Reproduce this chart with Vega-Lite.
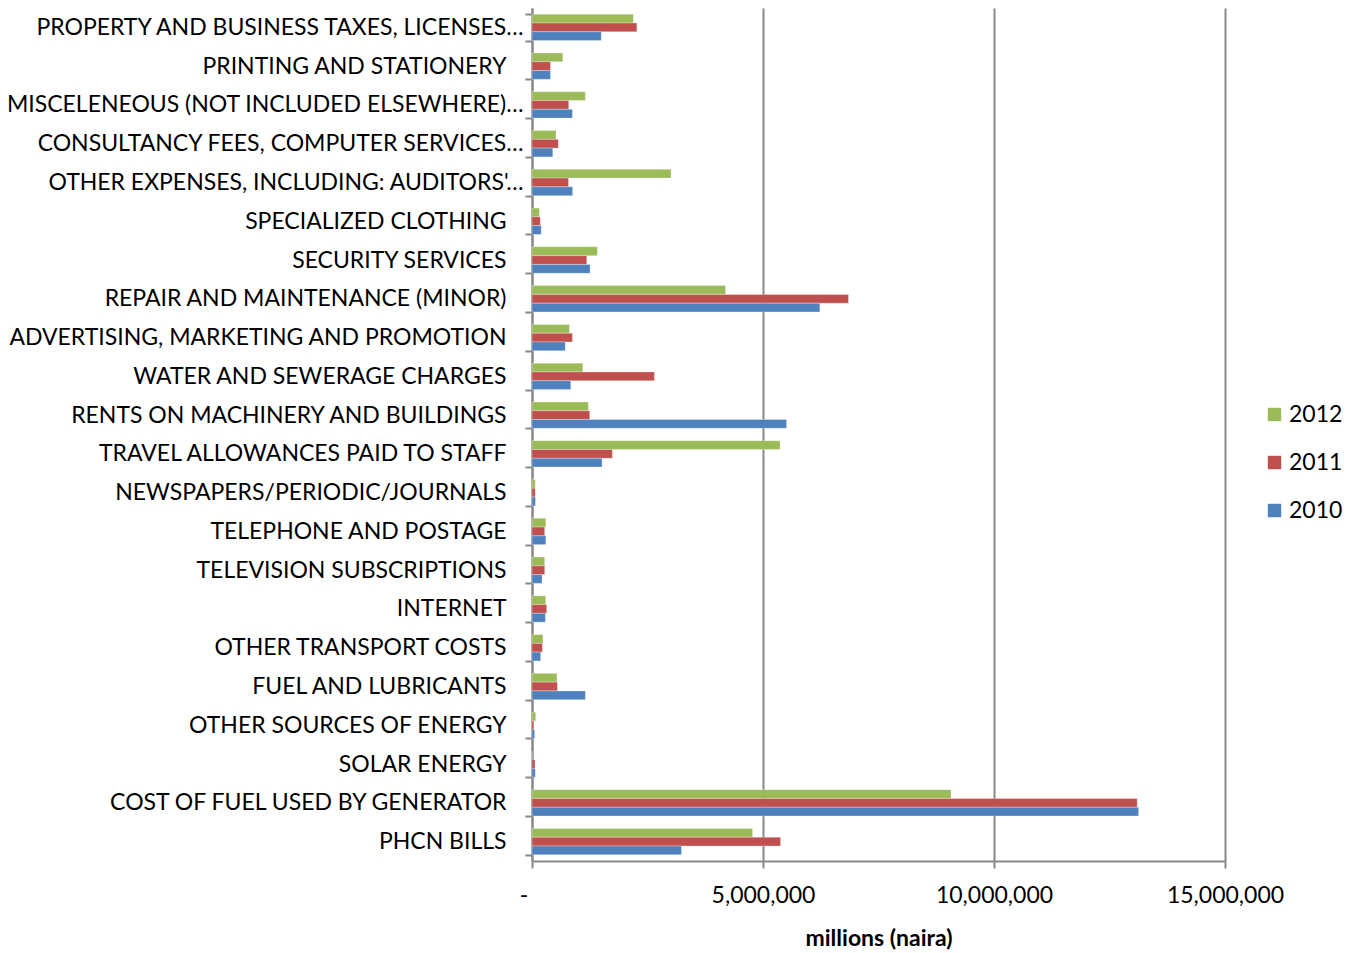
{
  "$schema": "https://vega.github.io/schema/vega-lite/v6.json",
  "autosize": "none",
  "width": 693,
  "height": 853,
  "padding": {"left": 532, "top": 8, "right": 138, "bottom": 92},
  "background": "white",
  "config": {
    "font": "Lato",
    "view": {"stroke": null},
    "axis": {"labelFont": "Lato", "titleFont": "Lato", "labelColor": "black", "titleColor": "black"}
  },
  "data": {
    "values": [
      {"item": "PROPERTY AND BUSINESS TAXES, LICENSES…", "year": "2012", "amount": 2195000},
      {"item": "PROPERTY AND BUSINESS TAXES, LICENSES…", "year": "2011", "amount": 2270000},
      {"item": "PROPERTY AND BUSINESS TAXES, LICENSES…", "year": "2010", "amount": 1500000},
      {"item": "PRINTING AND STATIONERY", "year": "2012", "amount": 665000},
      {"item": "PRINTING AND STATIONERY", "year": "2011", "amount": 400000},
      {"item": "PRINTING AND STATIONERY", "year": "2010", "amount": 400000},
      {"item": "MISCELENEOUS (NOT INCLUDED ELSEWHERE)…", "year": "2012", "amount": 1155000},
      {"item": "MISCELENEOUS (NOT INCLUDED ELSEWHERE)…", "year": "2011", "amount": 795000},
      {"item": "MISCELENEOUS (NOT INCLUDED ELSEWHERE)…", "year": "2010", "amount": 875000},
      {"item": "CONSULTANCY FEES, COMPUTER SERVICES…", "year": "2012", "amount": 520000},
      {"item": "CONSULTANCY FEES, COMPUTER SERVICES…", "year": "2011", "amount": 570000},
      {"item": "CONSULTANCY FEES, COMPUTER SERVICES…", "year": "2010", "amount": 450000},
      {"item": "OTHER EXPENSES, INCLUDING: AUDITORS'…", "year": "2012", "amount": 3010000},
      {"item": "OTHER EXPENSES, INCLUDING: AUDITORS'…", "year": "2011", "amount": 790000},
      {"item": "OTHER EXPENSES, INCLUDING: AUDITORS'…", "year": "2010", "amount": 880000},
      {"item": "SPECIALIZED CLOTHING", "year": "2012", "amount": 160000},
      {"item": "SPECIALIZED CLOTHING", "year": "2011", "amount": 180000},
      {"item": "SPECIALIZED CLOTHING", "year": "2010", "amount": 200000},
      {"item": "SECURITY SERVICES", "year": "2012", "amount": 1415000},
      {"item": "SECURITY SERVICES", "year": "2011", "amount": 1185000},
      {"item": "SECURITY SERVICES", "year": "2010", "amount": 1257000},
      {"item": "REPAIR AND MAINTENANCE (MINOR)", "year": "2012", "amount": 4190000},
      {"item": "REPAIR AND MAINTENANCE (MINOR)", "year": "2011", "amount": 6850000},
      {"item": "REPAIR AND MAINTENANCE (MINOR)", "year": "2010", "amount": 6230000},
      {"item": "ADVERTISING, MARKETING AND PROMOTION", "year": "2012", "amount": 810000},
      {"item": "ADVERTISING, MARKETING AND PROMOTION", "year": "2011", "amount": 875000},
      {"item": "ADVERTISING, MARKETING AND PROMOTION", "year": "2010", "amount": 720000},
      {"item": "WATER AND SEWERAGE CHARGES", "year": "2012", "amount": 1100000},
      {"item": "WATER AND SEWERAGE CHARGES", "year": "2011", "amount": 2650000},
      {"item": "WATER AND SEWERAGE CHARGES", "year": "2010", "amount": 840000},
      {"item": "RENTS ON MACHINERY AND BUILDINGS", "year": "2012", "amount": 1220000},
      {"item": "RENTS ON MACHINERY AND BUILDINGS", "year": "2011", "amount": 1250000},
      {"item": "RENTS ON MACHINERY AND BUILDINGS", "year": "2010", "amount": 5510000},
      {"item": "TRAVEL ALLOWANCES PAID TO STAFF", "year": "2012", "amount": 5370000},
      {"item": "TRAVEL ALLOWANCES PAID TO STAFF", "year": "2011", "amount": 1740000},
      {"item": "TRAVEL ALLOWANCES PAID TO STAFF", "year": "2010", "amount": 1517000},
      {"item": "NEWSPAPERS/PERIODIC/JOURNALS", "year": "2012", "amount": 70000},
      {"item": "NEWSPAPERS/PERIODIC/JOURNALS", "year": "2011", "amount": 70000},
      {"item": "NEWSPAPERS/PERIODIC/JOURNALS", "year": "2010", "amount": 75000},
      {"item": "TELEPHONE AND POSTAGE", "year": "2012", "amount": 300000},
      {"item": "TELEPHONE AND POSTAGE", "year": "2011", "amount": 275000},
      {"item": "TELEPHONE AND POSTAGE", "year": "2010", "amount": 300000},
      {"item": "TELEVISION SUBSCRIPTIONS", "year": "2012", "amount": 275000},
      {"item": "TELEVISION SUBSCRIPTIONS", "year": "2011", "amount": 275000},
      {"item": "TELEVISION SUBSCRIPTIONS", "year": "2010", "amount": 217000},
      {"item": "INTERNET", "year": "2012", "amount": 297000},
      {"item": "INTERNET", "year": "2011", "amount": 318000},
      {"item": "INTERNET", "year": "2010", "amount": 290000},
      {"item": "OTHER TRANSPORT COSTS", "year": "2012", "amount": 238000},
      {"item": "OTHER TRANSPORT COSTS", "year": "2011", "amount": 225000},
      {"item": "OTHER TRANSPORT COSTS", "year": "2010", "amount": 188000},
      {"item": "FUEL AND LUBRICANTS", "year": "2012", "amount": 540000},
      {"item": "FUEL AND LUBRICANTS", "year": "2011", "amount": 550000},
      {"item": "FUEL AND LUBRICANTS", "year": "2010", "amount": 1155000},
      {"item": "OTHER SOURCES OF ENERGY", "year": "2012", "amount": 80000},
      {"item": "OTHER SOURCES OF ENERGY", "year": "2011", "amount": 40000},
      {"item": "OTHER SOURCES OF ENERGY", "year": "2010", "amount": 57000},
      {"item": "SOLAR ENERGY", "year": "2012", "amount": 0},
      {"item": "SOLAR ENERGY", "year": "2011", "amount": 65000},
      {"item": "SOLAR ENERGY", "year": "2010", "amount": 70000},
      {"item": "COST OF FUEL USED BY GENERATOR", "year": "2012", "amount": 9070000},
      {"item": "COST OF FUEL USED BY GENERATOR", "year": "2011", "amount": 13100000},
      {"item": "COST OF FUEL USED BY GENERATOR", "year": "2010", "amount": 13130000},
      {"item": "PHCN BILLS", "year": "2012", "amount": 4775000},
      {"item": "PHCN BILLS", "year": "2011", "amount": 5380000},
      {"item": "PHCN BILLS", "year": "2010", "amount": 3235000}
    ]
  },
  "mark": {"type": "bar", "stroke": "white", "strokeOpacity": 0.5, "strokeWidth": 0.6},
  "encoding": {
    "y": {
      "field": "item",
      "type": "nominal",
      "sort": null,
      "scale": {"paddingInner": 0.32, "paddingOuter": 0.16},
      "axis": {
        "title": null,
        "labelFontSize": 23,
        "labelLimit": 0,
        "labelPadding": 2,
        "labelExpr": "indexof(datum.label, '…') >= 0 ? datum.label : datum.label + '\u2800'",
        "domainColor": "#888888",
        "domainWidth": 2,
        "tickColor": "#888888",
        "tickWidth": 2,
        "tickSize": 7,
        "tickBand": "extent",
        "grid": false
      }
    },
    "yOffset": {
      "field": "year",
      "type": "nominal",
      "sort": ["2012", "2011", "2010"],
      "scale": {"paddingInner": 0, "paddingOuter": 0}
    },
    "x": {
      "field": "amount",
      "type": "quantitative",
      "scale": {"domain": [0, 15000000], "nice": false},
      "axis": {
        "title": "millions (naira)",
        "titleFontSize": 23,
        "titleFontWeight": "bold",
        "titlePadding": 20,
        "labelFontSize": 23,
        "labelPadding": 16,
        "labelFlush": false,
        "labelOverlap": false,
        "values": [0, 5000000, 10000000, 15000000],
        "labelExpr": "datum.value == 0 ? '-\u2800' : format(datum.value, ',')",
        "domainColor": "#888888",
        "domainWidth": 2,
        "tickColor": "#888888",
        "tickWidth": 2,
        "tickSize": 7,
        "grid": true,
        "gridColor": "#888888",
        "gridWidth": 2
      }
    },
    "color": {
      "field": "year",
      "type": "nominal",
      "sort": ["2012", "2011", "2010"],
      "scale": {"domain": ["2012", "2011", "2010"], "range": ["#9BBB59", "#C0504D", "#4F81BD"]},
      "legend": {
        "title": null,
        "orient": "none",
        "legendX": 731,
        "legendY": 395,
        "symbolType": "square",
        "symbolSize": 180,
        "symbolStrokeWidth": 0,
        "labelFontSize": 23,
        "labelFont": "Lato",
        "labelColor": "black",
        "rowPadding": 24,
        "labelOffset": 3
      }
    }
  }
}
